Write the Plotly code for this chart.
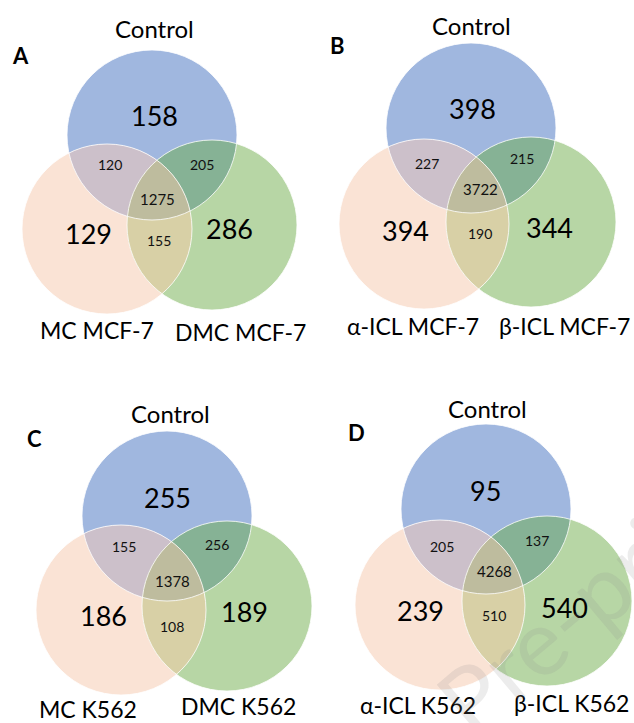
import numpy as np
import plotly.graph_objects as go

# ---------------- data ----------------
panel_letters = ["A", "B", "C", "D"]
set_top = ["Control", "Control", "Control", "Control"]
set_left = ["MC MCF-7", "α-ICL MCF-7", "MC K562", "α-ICL K562"]
set_right = ["DMC MCF-7", "β-ICL MCF-7", "DMC K562", "β-ICL K562"]

only_control = [158, 398, 255, 95]
only_left = [129, 394, 186, 239]
only_right = [286, 344, 189, 540]
control_left = [120, 227, 155, 205]
control_right = [205, 215, 256, 137]
left_right = [155, 190, 108, 510]
all_three = [1275, 3722, 1378, 4268]

# ---------------- layout (pixel positions) ----------------
W, H = 634, 723
R = 85
circle_centers = [  # (top, left, right)
    [(152, 135), (107, 229), (212, 225)],
    [(471, 128), (424, 224), (531, 222)],
    [(167, 516), (121, 610), (227, 606)],
    [(486, 509), (440, 605), (547, 601)],
]
text_pos = [
    dict(top=(154, 28), letter=(20, 55), oc=(154, 115), cl=(110, 164), cr=(202, 164),
         al=(157, 199), ol=(88, 233), lr=(159, 240), orr=(229, 228), ll=(97, 330), rl=(240, 332)),
    dict(top=(471, 25), letter=(337, 45), oc=(472, 108), cl=(427, 163), cr=(522, 158),
         al=(480, 189), ol=(405, 230), lr=(480, 233), orr=(549, 227), ll=(413, 326), rl=(564, 326)),
    dict(top=(170, 413), letter=(34, 438), oc=(167, 497), cl=(124, 546), cr=(217, 544),
         al=(172, 581), ol=(103, 615), lr=(172, 626), orr=(244, 611), ll=(88, 709), rl=(238, 706)),
    dict(top=(487, 408), letter=(356, 432), oc=(485, 490), cl=(442, 546), cr=(537, 540),
         al=(494, 571), ol=(420, 610), lr=(494, 615), orr=(564, 607), ll=(418, 705), rl=(571, 703)),
]

C_TOP = "rgb(160,183,223)"
C_LEFT = "rgb(250,227,213)"
C_RIGHT = "rgb(183,214,165)"
C_TL = "rgb(204,192,202)"
C_TR = "rgb(134,178,149)"
C_LR = "rgb(216,208,166)"
C_ALL = "rgb(190,188,158)"

FONT = "Lato, 'Open Sans', sans-serif"


def region_path(circles):
    """Boundary of the intersection of the given circles (convex)."""
    pts = []
    th = np.linspace(0, 2 * np.pi, 1440, endpoint=False)
    for i, (cx, cy, r) in enumerate(circles):
        x = cx + r * np.cos(th)
        y = cy + r * np.sin(th)
        m = np.ones_like(x, dtype=bool)
        for j, (ox, oy, orr) in enumerate(circles):
            if j != i:
                m &= (x - ox) ** 2 + (y - oy) ** 2 <= orr ** 2 + 1e-6
        pts.append(np.column_stack([x[m], y[m]]))
    P = np.vstack(pts)
    c = P.mean(axis=0)
    ang = np.arctan2(P[:, 1] - c[1], P[:, 0] - c[0])
    P = P[np.argsort(ang)]
    return "M " + " L ".join(f"{px:.2f},{py:.2f}" for px, py in P) + " Z"


fig = go.Figure()
fig.add_trace(go.Scatter(x=[0, W], y=[0, H], mode="markers",
                         marker=dict(opacity=0), hoverinfo="skip", showlegend=False))

shapes = []
annotations = []

for p in range(4):
    (tx, ty), (lx, ly), (rx, ry) = circle_centers[p]
    ct, cl, cr = (tx, ty, R), (lx, ly, R), (rx, ry, R)
    for (cx, cy, r), col in [(ct, C_TOP), (cl, C_LEFT), (cr, C_RIGHT)]:
        shapes.append(dict(type="circle", xref="x", yref="y", x0=cx - r, x1=cx + r,
                           y0=cy - r, y1=cy + r, fillcolor=col, line=dict(width=0)))
    for circs, col in [([ct, cl], C_TL), ([ct, cr], C_TR), ([cl, cr], C_LR), ([ct, cl, cr], C_ALL)]:
        shapes.append(dict(type="path", xref="x", yref="y", path=region_path(circs),
                           fillcolor=col, line=dict(width=0)))
    for (cx, cy, r) in [ct, cl, cr]:
        shapes.append(dict(type="circle", xref="x", yref="y", x0=cx - r, x1=cx + r,
                           y0=cy - r, y1=cy + r, fillcolor="rgba(0,0,0,0)",
                           line=dict(color="rgba(255,255,255,0.8)", width=1)))

    tp = text_pos[p]

    def ann(key, text, size, bold=False, color="#000"):
        x, y = tp[key]
        annotations.append(dict(x=x, y=y, xref="x", yref="y", text=f"<b>{text}</b>" if bold else text,
                                showarrow=False, xanchor="center", yanchor="middle",
                                font=dict(family=FONT, size=size, color=color)))

    ann("top", set_top[p], 24)
    ann("letter", panel_letters[p], 22, bold=True)
    ann("ll", set_left[p], 23)
    ann("rl", set_right[p], 23)
    ann("oc", only_control[p], 27)
    ann("ol", only_left[p], 27)
    ann("orr", only_right[p], 27)
    ann("cl", control_left[p], 14, color="#111")
    ann("cr", control_right[p], 14, color="#111")
    ann("lr", left_right[p], 14, color="#111")
    ann("al", all_three[p], 15, color="#111")

# faint watermark (as in the reference)
annotations.append(dict(x=602, y=585, xref="x", yref="y", text="Pre-prints", showarrow=False,
                        textangle=-40, font=dict(family=FONT, size=92, color="rgba(140,140,140,0.17)")))

fig.update_layout(
    width=W, height=H, margin=dict(l=0, r=0, t=0, b=0),
    paper_bgcolor="white", plot_bgcolor="white",
    xaxis=dict(range=[0, W], visible=False, fixedrange=True),
    yaxis=dict(range=[H, 0], visible=False, fixedrange=True),
    shapes=shapes, annotations=annotations, showlegend=False,
)
fig.write_html("out.html", config={"displayModeBar": False},
               post_script="document.body.style.margin='0';document.body.style.overflow='hidden';")
